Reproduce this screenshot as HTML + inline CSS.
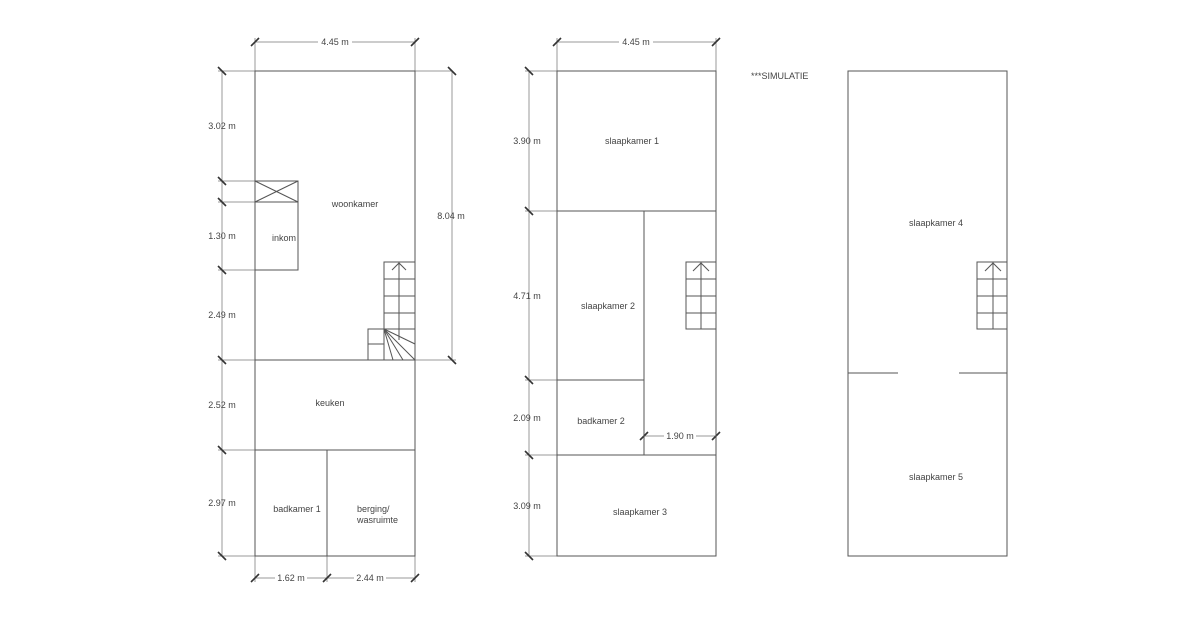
<!DOCTYPE html>
<html><head><meta charset="utf-8"><style>
html,body{margin:0;padding:0;background:#fff}
svg{display:block}
text{font-family:"Liberation Sans",sans-serif;font-size:9px;fill:#444}
.w{stroke:#555;stroke-width:1;fill:none}
.d{stroke:#999;stroke-width:1;fill:none}
.t{stroke:#333;stroke-width:1.6}
.bg{fill:#fff}
</style></head><body>
<svg width="1200" height="632" viewBox="0 0 1200 632" xmlns="http://www.w3.org/2000/svg">
<!-- PLAN 1 -->
<g class="d">
<line x1="255" y1="42" x2="415" y2="42"/>
<line x1="255" y1="38" x2="255" y2="71"/><line x1="415" y1="38" x2="415" y2="71"/>
<line x1="222" y1="71" x2="222" y2="556"/>
<line x1="218" y1="71" x2="452" y2="71"/>
<line x1="218" y1="181" x2="255" y2="181"/>
<line x1="218" y1="202" x2="255" y2="202"/>
<line x1="218" y1="270" x2="255" y2="270"/>
<line x1="218" y1="360" x2="255" y2="360"/>
<line x1="218" y1="450" x2="255" y2="450"/>
<line x1="218" y1="556" x2="255" y2="556"/>
<line x1="452" y1="71" x2="452" y2="360"/>
<line x1="415" y1="360" x2="456" y2="360"/>
<line x1="255" y1="578" x2="415" y2="578"/>
<line x1="255" y1="556" x2="255" y2="582"/><line x1="327" y1="556" x2="327" y2="582"/><line x1="415" y1="556" x2="415" y2="582"/>
</g>
<g class="t">
<line x1="251" y1="46" x2="259" y2="38"/><line x1="411" y1="46" x2="419" y2="38"/>
<line x1="218" y1="67" x2="226" y2="75"/><line x1="218" y1="177" x2="226" y2="185"/><line x1="218" y1="198" x2="226" y2="206"/><line x1="218" y1="266" x2="226" y2="274"/><line x1="218" y1="356" x2="226" y2="364"/><line x1="218" y1="446" x2="226" y2="454"/><line x1="218" y1="552" x2="226" y2="560"/>
<line x1="448" y1="67" x2="456" y2="75"/><line x1="448" y1="356" x2="456" y2="364"/>
<line x1="251" y1="582" x2="259" y2="574"/><line x1="323" y1="582" x2="331" y2="574"/><line x1="411" y1="582" x2="419" y2="574"/>
</g>
<g class="w">
<rect x="255" y="71" width="160" height="485"/>
<rect x="255" y="181" width="43" height="89"/>
<line x1="255" y1="202" x2="298" y2="202"/>
<line x1="255" y1="181" x2="298" y2="202"/><line x1="298" y1="181" x2="255" y2="202"/>
<line x1="255" y1="360" x2="415" y2="360"/>
<line x1="255" y1="450" x2="415" y2="450"/>
<line x1="327" y1="450" x2="327" y2="556"/>
<rect x="384" y="262" width="31" height="67"/>
<line x1="384" y1="279" x2="415" y2="279"/><line x1="384" y1="296" x2="415" y2="296"/><line x1="384" y1="313" x2="415" y2="313"/>
<line x1="399" y1="262" x2="399" y2="340"/>
<polyline points="392,270 399,263 406,270"/>
<rect x="368" y="329" width="16" height="31"/>
<line x1="368" y1="344" x2="384" y2="344"/>
<line x1="384" y1="329" x2="415" y2="344"/>
<line x1="384" y1="329" x2="415" y2="360"/>
<line x1="384" y1="329" x2="403" y2="360"/>
<line x1="384" y1="329" x2="393" y2="360"/>
</g>
<rect class="bg" x="318" y="36" width="34" height="12"/>
<text x="335" y="45" text-anchor="middle">4.45 m</text>
<rect class="bg" x="275" y="572" width="32" height="12"/>
<text x="291" y="581" text-anchor="middle">1.62 m</text>
<rect class="bg" x="354" y="572" width="32" height="12"/>
<text x="370" y="581" text-anchor="middle">2.44 m</text>
<text x="222" y="129" text-anchor="middle">3.02 m</text>
<text x="222" y="239" text-anchor="middle">1.30 m</text>
<text x="222" y="318" text-anchor="middle">2.49 m</text>
<text x="222" y="408" text-anchor="middle">2.52 m</text>
<text x="222" y="506" text-anchor="middle">2.97 m</text>
<text x="451" y="219" text-anchor="middle">8.04 m</text>
<text x="355" y="207" text-anchor="middle">woonkamer</text>
<text x="284" y="241" text-anchor="middle">inkom</text>
<text x="330" y="406" text-anchor="middle">keuken</text>
<text x="297" y="512" text-anchor="middle">badkamer 1</text>
<text x="357" y="512">berging/</text>
<text x="357" y="523">wasruimte</text>

<!-- PLAN 2 -->
<g class="d">
<line x1="557" y1="42" x2="716" y2="42"/>
<line x1="557" y1="38" x2="557" y2="71"/><line x1="716" y1="38" x2="716" y2="71"/>
<line x1="529" y1="71" x2="529" y2="556"/>
<line x1="525" y1="71" x2="557" y2="71"/>
<line x1="525" y1="211" x2="557" y2="211"/>
<line x1="525" y1="380" x2="557" y2="380"/>
<line x1="525" y1="455" x2="557" y2="455"/>
<line x1="525" y1="556" x2="557" y2="556"/>
<line x1="644" y1="436" x2="716" y2="436"/>
</g>
<g class="t">
<line x1="553" y1="46" x2="561" y2="38"/><line x1="712" y1="46" x2="720" y2="38"/>
<line x1="525" y1="67" x2="533" y2="75"/><line x1="525" y1="207" x2="533" y2="215"/><line x1="525" y1="376" x2="533" y2="384"/><line x1="525" y1="451" x2="533" y2="459"/><line x1="525" y1="552" x2="533" y2="560"/>
<line x1="640" y1="440" x2="648" y2="432"/><line x1="712" y1="440" x2="720" y2="432"/>
</g>
<g class="w">
<rect x="557" y="71" width="159" height="485"/>
<line x1="557" y1="211" x2="716" y2="211"/>
<line x1="644" y1="211" x2="644" y2="455"/>
<line x1="557" y1="380" x2="644" y2="380"/>
<line x1="557" y1="455" x2="716" y2="455"/>
<rect x="686" y="262" width="30" height="67"/>
<line x1="686" y1="279" x2="716" y2="279"/><line x1="686" y1="296" x2="716" y2="296"/><line x1="686" y1="313" x2="716" y2="313"/>
<line x1="701" y1="262" x2="701" y2="329"/>
<polyline points="693,271 701,263 709,271"/>
</g>
<rect class="bg" x="619" y="36" width="34" height="12"/>
<text x="636" y="45" text-anchor="middle">4.45 m</text>
<rect class="bg" x="664" y="430" width="32" height="12"/>
<text x="680" y="439" text-anchor="middle">1.90 m</text>
<text x="527" y="144" text-anchor="middle">3.90 m</text>
<text x="527" y="299" text-anchor="middle">4.71 m</text>
<text x="527" y="421" text-anchor="middle">2.09 m</text>
<text x="527" y="509" text-anchor="middle">3.09 m</text>
<text x="632" y="144" text-anchor="middle">slaapkamer 1</text>
<text x="608" y="309" text-anchor="middle">slaapkamer 2</text>
<text x="601" y="424" text-anchor="middle">badkamer 2</text>
<text x="640" y="515" text-anchor="middle">slaapkamer 3</text>

<!-- PLAN 3 -->
<text x="751" y="79">***SIMULATIE</text>
<g class="w">
<rect x="848" y="71" width="159" height="485"/>
<line x1="848" y1="373" x2="898" y2="373"/>
<line x1="959" y1="373" x2="1007" y2="373"/>
<rect x="977" y="262" width="30" height="67"/>
<line x1="977" y1="279" x2="1007" y2="279"/><line x1="977" y1="296" x2="1007" y2="296"/><line x1="977" y1="313" x2="1007" y2="313"/>
<line x1="993" y1="262" x2="993" y2="329"/>
<polyline points="985,271 993,263 1001,271"/>
</g>
<text x="936" y="226" text-anchor="middle">slaapkamer 4</text>
<text x="936" y="480" text-anchor="middle">slaapkamer 5</text>
</svg>
</body></html>
